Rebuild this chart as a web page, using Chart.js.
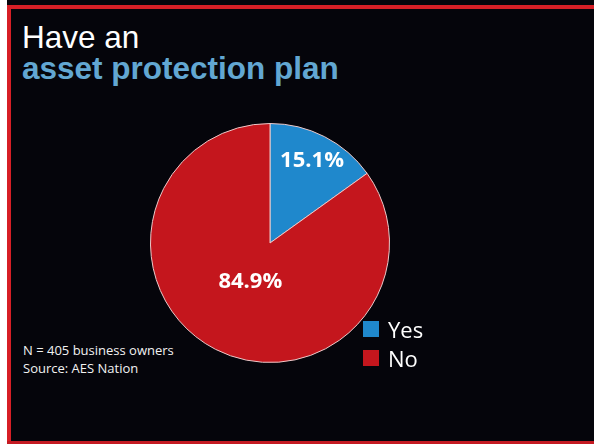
<!DOCTYPE html>
<html>
<head>
<meta charset="utf-8">
<script src="https://cdn.jsdelivr.net/npm/chart.js@4.4.1/dist/chart.umd.min.js"></script>
<style>
  html, body { margin: 0; padding: 0; overflow: hidden; }
  body { width: 594px; height: 444px; background: #05050b; position: relative; }
  #leftStrip { position: absolute; left: 0; top: 0; width: 7px; height: 444px; background: #ffffff; }
  #slide { position: absolute; left: 7px; top: 5px; width: 587px; height: 439px;
           background: #05050b; border-left: 4px solid #d71f26; border-top: 4px solid #d71f26; box-sizing: border-box; }
  #bottomLine { position: absolute; left: 7px; top: 441px; width: 587px; height: 3px; background: #c41a22; }
  .title { position: absolute; left: 22px; font-family: "Liberation Sans", Arial, sans-serif; font-size: 31.5px; white-space: nowrap; }
  #t1 { top: 19px; color: #ffffff; }
  #t2 { top: 50px; color: #62a7d2; font-weight: bold; }
  #note { position: absolute; left: 23px; top: 341px; font-family: "Open Sans", sans-serif; font-size: 13px;
          line-height: 18px; color: #f2f2f2; }
  #pieBox { position: absolute; left: 140px; top: 113px; width: 260px; height: 260px; }
  #legend { position: absolute; left: 363px; top: 314px; font-family: "Open Sans", sans-serif; font-size: 22px; color: #ffffff; }
  .row { height: 29px; display: flex; align-items: center; }
  .sw { width: 16px; height: 16px; margin-right: 9px; }
</style>
</head>
<body>
<div id="leftStrip"></div>
<div id="slide"></div>
<div id="bottomLine"></div>
<div class="title" id="t1">Have an</div>
<div class="title" id="t2">asset protection plan</div>
<div id="note">N = 405 business owners<br>Source: AES Nation</div>
<div id="pieBox"><canvas id="canvas" width="260" height="260"></canvas></div>
<div id="legend"></div>
<script>
var LABELS = ['Yes', 'No'];
var VALUES = [15.1, 84.9];
var VALUE_TEXT = ['15.1%', '84.9%'];
var COLORS = ['#1f88cc', '#c4161d'];
// where each slice label sits, as a fraction of the radius
var LABEL_RADIUS = [0.77, 0.36];

var legendDiv = document.getElementById('legend');
for (var i = 0; i < LABELS.length; i++) {
    var row = document.createElement('div');
    row.className = 'row';
    row.innerHTML = '<div class="sw" style="background:' + COLORS[i] + '"></div><span>' + LABELS[i] + '</span>';
    legendDiv.appendChild(row);
}

var sliceLabels = {
    id: 'sliceLabels',
    afterDatasetsDraw: function(chart) {
        var ctx = chart.ctx;
        var arcs = chart.getDatasetMeta(0).data;
        ctx.save();
        ctx.font = 'bold 22px "Open Sans", sans-serif';
        ctx.fillStyle = '#ffffff';
        ctx.textAlign = 'center';
        ctx.textBaseline = 'middle';
        arcs.forEach(function(arc, i) {
            var p = arc.getProps(['x', 'y', 'startAngle', 'endAngle', 'outerRadius'], true);
            var mid = (p.startAngle + p.endAngle) / 2;
            var r = p.outerRadius * LABEL_RADIUS[i];
            ctx.fillText(VALUE_TEXT[i], p.x + Math.cos(mid) * r, p.y + Math.sin(mid) * r);
        });
        ctx.restore();
    }
};

window.onload = function() {
    var ctx = document.getElementById('canvas').getContext('2d');
    window.myPie = new Chart(ctx, {
        type: 'pie',
        data: {
            labels: LABELS,
            datasets: [{
                data: VALUES,
                backgroundColor: COLORS,
                borderColor: '#ecc9c9',
                borderWidth: 1
            }]
        },
        options: {
            responsive: false,
            animation: false,
            layout: { padding: 10 },
            plugins: {
                legend: { display: false },
                tooltip: { enabled: false }
            }
        },
        plugins: [sliceLabels]
    });
};
</script>
</body>
</html>
